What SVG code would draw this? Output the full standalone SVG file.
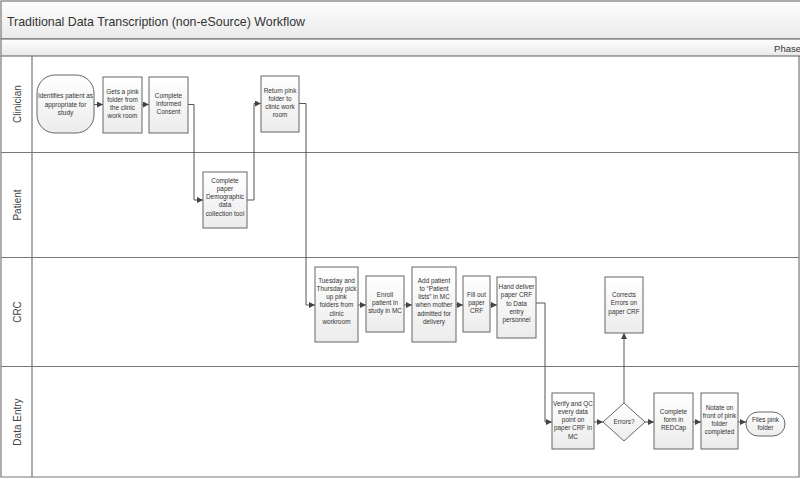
<svg xmlns="http://www.w3.org/2000/svg" width="800" height="479" viewBox="0 0 800 479">
<defs>
<linearGradient id="band" x1="0" y1="0" x2="0" y2="1"><stop offset="0" stop-color="#ffffff"/><stop offset="1" stop-color="#e9e9e9"/></linearGradient>
<linearGradient id="nodeg" x1="0" y1="0" x2="0" y2="1"><stop offset="0" stop-color="#ffffff"/><stop offset="1" stop-color="#ececec"/></linearGradient>
<marker id="arr" markerUnits="userSpaceOnUse" markerWidth="7" markerHeight="6" refX="6" refY="3" orient="auto"><path d="M0,0 L6,3 L0,6 Z" fill="#444"/></marker>
</defs>
<style>
.node{fill:url(#nodeg);stroke:#666;stroke-width:1}
.t{font-family:"Liberation Sans",Arial,sans-serif;font-size:6.4px;fill:#333;text-anchor:middle}
.lane{font-family:"Liberation Sans",Arial,sans-serif;font-size:10px;fill:#444;text-anchor:middle}
.ln{stroke:#777;stroke-width:1.2;fill:none}
.c{stroke:#555;stroke-width:1;fill:none;marker-end:url(#arr)}
</style>
<rect width="800" height="479" fill="#ffffff"/>
<g id="frame">
<rect x="1" y="1" width="800" height="38" fill="url(#band)" stroke="#777" stroke-width="1.2"/>
<rect x="1" y="39" width="800" height="17" fill="url(#band)" stroke="#777" stroke-width="1.2"/>
<text x="7" y="26" font-family="Liberation Sans,Arial,sans-serif" font-size="13.5" fill="#333" textLength="298" lengthAdjust="spacingAndGlyphs">Traditional Data Transcription (non-eSource) Workflow</text>
<text x="801" y="52" font-family="Liberation Sans,Arial,sans-serif" font-size="9.5" fill="#333" text-anchor="end">Phase</text>
<path class="ln" d="M1,56 V477 H799 V56 M32,56 V477 M1,152.5 H799 M1,257.5 H799 M1,366.5 H799"/>
<text class="lane" transform="translate(20.5,104) rotate(-90)">Clinician</text>
<text class="lane" transform="translate(20.5,205) rotate(-90)">Patient</text>
<text class="lane" transform="translate(20.5,312) rotate(-90)">CRC</text>
<text class="lane" transform="translate(20.5,422) rotate(-90)">Data Entry</text>
</g>
<g id="connectors">
<path class="c" d="M94,104.5 H103"/>
<path class="c" d="M142,104.5 H149"/>
<path class="c" d="M188,104.5 H194 V200 H203"/>
<path class="c" d="M247,200 H254 V103.5 H261"/>
<path class="c" d="M299,103.5 H306 V305 H315"/>
<path class="c" d="M358,305 H366"/>
<path class="c" d="M404,305 H412"/>
<path class="c" d="M456,305 H463"/>
<path class="c" d="M490,305 H497"/>
<path class="c" d="M536,303 H545 V422 H552"/>
<path class="c" d="M594,422 H603"/>
<path class="c" d="M624,403 V333"/>
<path class="c" d="M645,422 H654"/>
<path class="c" d="M693,422 H701"/>
<path class="c" d="M738,422 H746"/>
</g>
<g id="n_identify"><rect class="node" x="37" y="75" width="57" height="58" rx="18"/>
<text class="t" x="65.5" y="98">Identifies patient as</text><text class="t" x="65.5" y="106.5">appropriate for</text><text class="t" x="65.5" y="115">study</text></g>
<g id="n_gets"><rect class="node" x="103" y="77" width="39" height="56"/>
<text class="t" x="122.5" y="93.5">Gets a pink</text><text class="t" x="122.5" y="101.8">folder from</text><text class="t" x="122.5" y="110.1">the clinic</text><text class="t" x="122.5" y="118.4">work room</text></g>
<g id="n_consent"><rect class="node" x="149" y="77" width="39" height="56"/>
<text class="t" x="168.5" y="97.5">Complete</text><text class="t" x="168.5" y="105.8">Informed</text><text class="t" x="168.5" y="114.1">Consent</text></g>
<g id="n_return"><rect class="node" x="261" y="76" width="38" height="56"/>
<text class="t" x="280" y="92.5">Return pink</text><text class="t" x="280" y="100.8">folder to</text><text class="t" x="280" y="109.1">clinic work</text><text class="t" x="280" y="117.4">room</text></g>
<g id="n_demographic"><rect class="node" x="203" y="172" width="44" height="56"/>
<text class="t" x="225" y="182.5">Complete</text><text class="t" x="225" y="190.8">paper</text><text class="t" x="225" y="199.1">Demographic</text><text class="t" x="225" y="207.4">data</text><text class="t" x="225" y="215.7">collection tool</text></g>
<g id="n_tuesday"><rect class="node" x="315" y="267" width="43" height="75"/>
<text class="t" x="336.5" y="282.5">Tuesday and</text><text class="t" x="336.5" y="290.8">Thursday pick</text><text class="t" x="336.5" y="299.1">up pink</text><text class="t" x="336.5" y="307.4">folders from</text><text class="t" x="336.5" y="315.7">clinic</text><text class="t" x="336.5" y="324">workroom</text></g>
<g id="n_enroll"><rect class="node" x="366" y="276" width="38" height="56"/>
<text class="t" x="385" y="296.5">Enroll</text><text class="t" x="385" y="304.8">patient in</text><text class="t" x="385" y="313.1">study in MC</text></g>
<g id="n_add"><rect class="node" x="412" y="267" width="44" height="75"/>
<text class="t" x="434" y="282.5">Add patient</text><text class="t" x="434" y="290.8">to “Patient</text><text class="t" x="434" y="299.1">lists” in MC</text><text class="t" x="434" y="307.4">when mother</text><text class="t" x="434" y="315.7">admitted for</text><text class="t" x="434" y="324">delivery</text></g>
<g id="n_fill"><rect class="node" x="463" y="276" width="27" height="56"/>
<text class="t" x="476.5" y="296.5">Fill out</text><text class="t" x="476.5" y="304.8">paper</text><text class="t" x="476.5" y="313.1">CRF</text></g>
<g id="n_hand"><rect class="node" x="497" y="277" width="39" height="61"/>
<text class="t" x="516.5" y="289">Hand deliver</text><text class="t" x="516.5" y="297.3">paper CRF</text><text class="t" x="516.5" y="305.6">to Data</text><text class="t" x="516.5" y="313.9">entry</text><text class="t" x="516.5" y="322.2">personnel</text></g>
<g id="n_corrects"><rect class="node" x="605" y="277" width="38" height="56"/>
<text class="t" x="624" y="297">Corrects</text><text class="t" x="624" y="305.3">Errors on</text><text class="t" x="624" y="313.6">paper CRF</text></g>
<g id="n_verify"><rect class="node" x="552" y="393" width="42" height="56"/>
<text class="t" x="573" y="405.5">Verify and QC</text><text class="t" x="573" y="413.8">every data</text><text class="t" x="573" y="422.1">point on</text><text class="t" x="573" y="430.4">paper CRF in</text><text class="t" x="573" y="438.7">MC</text></g>
<g id="n_errors"><path class="node" d="M624,403 L645,422 L624,441 L603,422 Z"/>
<text class="t" x="624" y="424.3">Errors?</text></g>
<g id="n_redcap"><rect class="node" x="654" y="393" width="39" height="56"/>
<text class="t" x="673.5" y="413.5">Complete</text><text class="t" x="673.5" y="421.8">form in</text><text class="t" x="673.5" y="430.1">REDCap</text></g>
<g id="n_notate"><rect class="node" x="701" y="393" width="37" height="56"/>
<text class="t" x="719.5" y="409.5">Notate on</text><text class="t" x="719.5" y="417.8">front of pink</text><text class="t" x="719.5" y="426.1">folder</text><text class="t" x="719.5" y="434.4">completed</text></g>
<g id="n_files"><rect class="node" x="746" y="412" width="39" height="24" rx="12"/>
<text class="t" x="765.5" y="421.5">Files pink</text><text class="t" x="765.5" y="429.8">folder</text></g>
</svg>
